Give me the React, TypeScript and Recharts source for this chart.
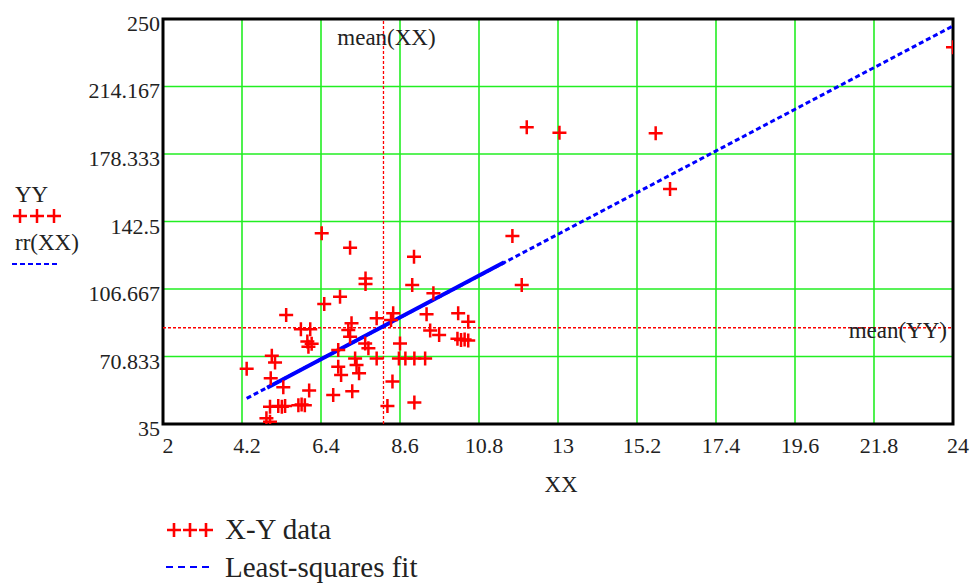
import React from 'react';
import { ScatterChart, Scatter, XAxis, YAxis, CartesianGrid, ReferenceLine, ReferenceArea } from 'recharts';

const xTicks = [2, 4.2, 6.4, 8.6, 10.8, 13, 15.2, 17.4, 19.6, 21.8, 24];
const yTicks = [35, 70.833, 106.667, 142.5, 178.333, 214.167, 250];
const yTickLabels = ['35', '70.833', '106.667', '142.5', '178.333', '214.167', '250'];

const XX = [
  6.42, 7.21, 8.99, 7.64, 7.64, 8.94, 6.93, 9.53, 6.49, 5.43,
  7.95, 8.41, 8.35, 9.34, 10.22, 10.5, 7.25, 7.16, 7.21, 5.84,
  6.1, 9.44, 9.69, 10.2, 10.3, 10.4, 10.5, 6.02, 6.14, 6.05,
  7.63, 7.72, 6.88, 8.6, 7.95, 7.35, 7.39, 7.46, 6.88, 6.96,
  8.57, 8.75, 9.0, 9.3, 8.39, 8.25, 9.0, 6.74, 7.27, 5.03,
  5.12, 4.33, 5.0, 5.35, 6.07, 4.98, 5.21, 5.31, 5.4, 5.77,
  5.86, 5.95, 4.88, 4.98, 11.73, 11.99, 12.13, 13.04, 15.72, 16.12,
  24.0,
];
const YY = [
  136.2, 128.5, 123.8, 112.3, 109.3, 108.8, 102.6, 104.4, 98.7, 92.9,
  91.1, 93.8, 90.2, 93.2, 93.8, 89.3, 88.5, 84.9, 81.3, 85.3,
  85.3, 84.6, 82.2, 80.2, 79.6, 79.8, 79.3, 78.8, 77.6, 76.0,
  77.8, 75.2, 74.3, 77.8, 69.8, 69.8, 66.3, 61.9, 65.4, 61.0,
  69.8, 69.8, 69.8, 69.8, 57.5, 44.6, 46.4, 50.4, 52.4, 71.2,
  67.6, 64.3, 59.3, 54.5, 52.8, 44.2, 44.6, 44.2, 44.6, 45.0,
  45.4, 45.0, 38.0, 36.2, 134.8, 108.8, 192.5, 189.6, 189.3, 159.7,
  235.0,
];

// least-squares fit line
const fitX = [4.33, 24];
const fitY = [48.6, 246.3];
const fitDenseX = [4.9, 11.5];
const fitDenseY = [54.3, 120.9];

const meanX = 8.14;
const meanY = 86.1;

const xyData = XX.map((x, i) => ({ x, y: YY[i] }));
const fitData = fitX.map((x, i) => ({ x, y: fitY[i] }));
const fitDenseData = fitDenseX.map((x, i) => ({ x, y: fitDenseY[i] }));

const FONT = '"Liberation Serif", "Times New Roman", serif';

const Cross = (props: any) => {
  const { cx, cy } = props;
  if (cx == null || cy == null) return <g />;
  return (
    <path
      d={`M${cx - 7},${cy}H${cx + 7}M${cx},${cy - 7}V${cy + 7}`}
      stroke="#ff0000"
      strokeWidth={2.5}
      fill="none"
    />
  );
};

const NoShape = () => <g />;

const XTick = (props: any) => {
  const { x, y, payload } = props;
  return (
    <text x={x + 5} y={y + 29} textAnchor="middle" fontFamily={FONT} fontSize={22} fill="#222">
      {String(payload.value)}
    </text>
  );
};

const YTick = (props: any) => {
  const { x, y, payload } = props;
  const idx = yTicks.indexOf(payload.value);
  const label = idx >= 0 ? yTickLabels[idx] : String(payload.value);
  return (
    <text x={x - 3} y={y + 12} textAnchor="end" fontFamily={FONT} fontSize={22} fill="#222">
      {label}
    </text>
  );
};

const MeanXLabel = (props: any) => {
  const vb = props.viewBox || { x: 0, y: 0 };
  return (
    <text x={vb.x + 3} y={vb.y + 26} textAnchor="middle" fontFamily={FONT} fontSize={23} fill="#222">
      mean(XX)
    </text>
  );
};

const MeanYLabel = (props: any) => {
  const vb = props.viewBox || { x: 0, y: 0, width: 0 };
  return (
    <text x={vb.x + vb.width - 6} y={vb.y + 10} textAnchor="end" fontFamily={FONT} fontSize={23} fill="#222">
      mean(YY)
    </text>
  );
};

const SmallCross = ({ x, y, s = 7, w = 2.5 }: { x: number; y: number; s?: number; w?: number }) => (
  <path d={`M${x - s},${y}H${x + s}M${x},${y - s}V${y + s}`} stroke="#ff0000" strokeWidth={w} fill="none" />
);

export default function App() {
  return (
    <div style={{ position: 'absolute', left: 0, top: 0, width: 972, height: 583, background: '#fff' }}>
      <ScatterChart width={972} height={583} margin={{ top: 19, right: 19, bottom: 0, left: 0 }}>
        <CartesianGrid stroke="#22ee22" strokeWidth={1.6} />
        <XAxis
          type="number"
          dataKey="x"
          domain={[2, 24]}
          ticks={xTicks}
          interval={0}
          height={159}
          axisLine={false}
          tickLine={false}
          tickSize={0}
          tickMargin={0}
          tick={<XTick />}
          allowDataOverflow
        />
        <YAxis
          type="number"
          dataKey="y"
          domain={[35, 250]}
          ticks={yTicks}
          interval={0}
          width={163}
          axisLine={false}
          tickLine={false}
          tickSize={0}
          tickMargin={0}
          tick={<YTick />}
          allowDataOverflow
        />
        <ReferenceLine x={meanX} stroke="#ff0000" strokeWidth={1.3} strokeDasharray="3 2" label={MeanXLabel} />
        <ReferenceLine y={meanY} stroke="#ff0000" strokeWidth={1.3} strokeDasharray="3 2" label={MeanYLabel} />
        <Scatter
          data={fitData}
          shape={NoShape}
          line={{ stroke: '#0000ff', strokeWidth: 3, strokeDasharray: '5 3' }}
          isAnimationActive={false}
        />
        <Scatter
          data={fitDenseData}
          shape={NoShape}
          line={{ stroke: '#0000ff', strokeWidth: 4 }}
          isAnimationActive={false}
        />
        <Scatter data={xyData} shape={Cross} isAnimationActive={false} />
        <ReferenceArea x1={2} x2={24} y1={35} y2={250} fill="none" fillOpacity={0} stroke="#000" strokeWidth={3} />
      </ScatterChart>
      <svg
        width={972}
        height={583}
        style={{ position: 'absolute', left: 0, top: 0, pointerEvents: 'none' }}
      >
        {/* left-side axis legend */}
        <text x={15} y={202} fontFamily={FONT} fontSize={23} fill="#222">YY</text>
        <SmallCross x={20} y={216} s={7} w={2.5} />
        <SmallCross x={37} y={216} s={7} w={2.5} />
        <SmallCross x={54} y={216} s={7} w={2.5} />
        <text x={15} y={250} fontFamily={FONT} fontSize={23} fill="#222">rr(XX)</text>
        <line x1={12} y1={264} x2={58} y2={264} stroke="#0000ff" strokeWidth={2} strokeDasharray="5 3" />
        {/* x axis title */}
        <text x={561} y={492} textAnchor="middle" fontFamily={FONT} fontSize={23} fill="#222">XX</text>
        {/* bottom legend */}
        <SmallCross x={174} y={530} s={7} w={2.6} />
        <SmallCross x={190} y={530} s={7} w={2.6} />
        <SmallCross x={206} y={530} s={7} w={2.6} />
        <text x={225} y={539} fontFamily={FONT} fontSize={29} fill="#222">X-Y data</text>
        <line x1={166} y1={567} x2={214} y2={567} stroke="#0000ff" strokeWidth={2} strokeDasharray="7 5" />
        <text x={225} y={577} fontFamily={FONT} fontSize={29} fill="#222">Least-squares fit</text>
      </svg>
    </div>
  );
}
